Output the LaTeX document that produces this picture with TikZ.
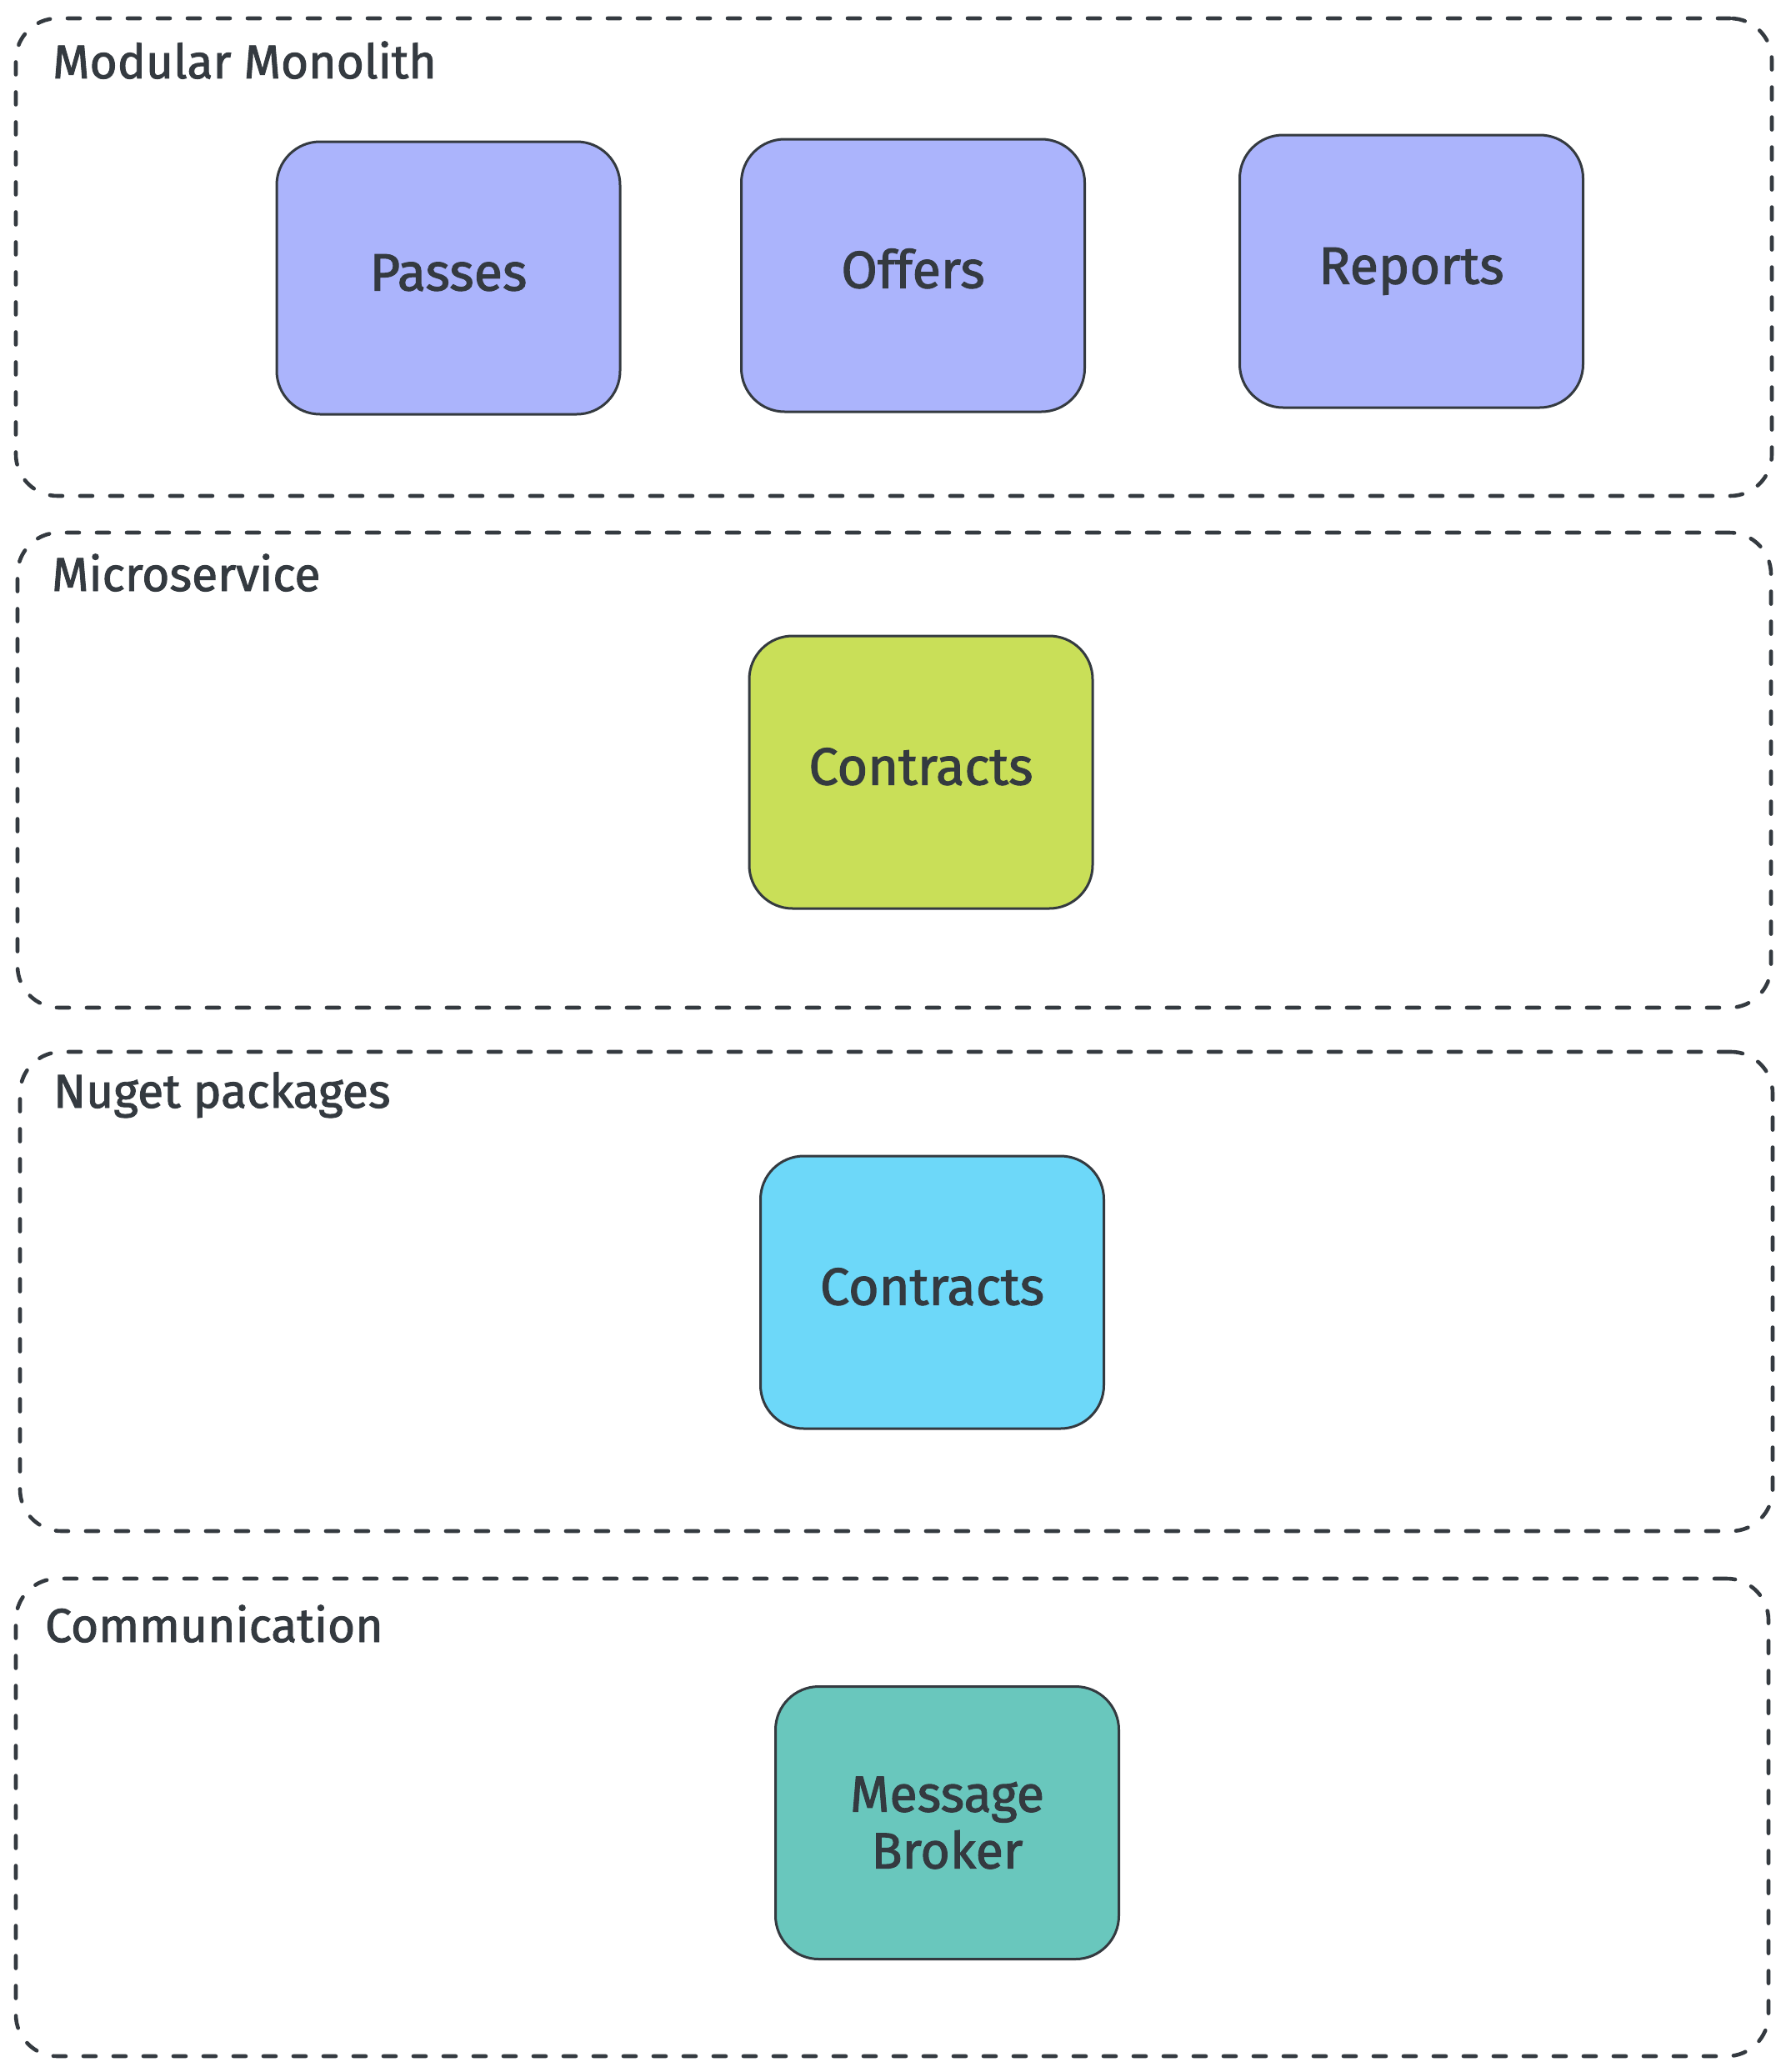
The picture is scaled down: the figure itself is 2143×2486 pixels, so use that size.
\documentclass[tikz,border=0pt]{standalone}
\usepackage{fontspec}
\setmainfont{Fira Sans}
\newfontfamily\handfont{Fira Sans}[FakeBold=1.6]
\definecolor{ink}{HTML}{343A40}
\definecolor{purp}{HTML}{ABB4FC}
\definecolor{lime}{HTML}{C9DF58}
\definecolor{sky}{HTML}{6DD8F9}
\definecolor{tealfill}{HTML}{69C7BD}
\tikzset{
  group/.style={draw=ink, line width=4.6pt, line cap=round, dash pattern=on 15pt off 21pt,
    rounded corners=50pt, inner sep=0pt},
  glabel/.style={text=ink, inner sep=0pt, font=\handfont\fontsize{57}{62}\selectfont},
  modbase/.style={draw=ink, line width=3pt, rounded corners=52pt,
    minimum width=412pt, minimum height=327pt, inner sep=0pt, text=ink,
    font=\handfont\fontsize{63}{68}\selectfont},
  module/.style={modbase, text height=36pt, text depth=6pt}
}
\begin{document}
\begin{tikzpicture}[x=1pt,y=-1pt]
\fill[white] (0,0) rectangle (2143,2486);
\useasboundingbox (0,0) rectangle (2143,2486);

% group frames
\node[group, minimum width=2107pt, minimum height=573pt] (g1) at (1072.5,308.5) {};
\node[group, minimum width=2104pt, minimum height=570pt] (g2) at (1073,924) {};
\node[group, minimum width=2103pt, minimum height=575pt] (g3) at (1075.5,1549.5) {};
\node[group, minimum width=2103pt, minimum height=573pt] (g4) at (1070.5,2180.5) {};

% group labels
\node[glabel, anchor=base west] (l1) at (63,94) {Modular Monolith};
\node[glabel, anchor=base west] (l2) at (62,709) {Microservice};
\node[glabel, anchor=base west] (l3) at (64,1329) {Nuget packages};
\node[glabel, anchor=base west] (l4) at (54,1970) {Communication};

% modules
\node[module, fill=purp] (passes) at (538,333.5) {Passes};
\node[module, fill=purp] (offers) at (1095.5,330.5) {Offers};
\node[module, fill=purp] (reports) at (1693.5,325.5) {Reports};
\node[module, fill=lime] (contractsA) at (1105,926.5) {Contracts};
\node[module, fill=sky] (contractsB) at (1118.5,1550.5) {Contracts};
\node[modbase, fill=tealfill, align=center, font=\handfont\fontsize{61}{68}\selectfont] (broker) at (1136.5,2187) {Message\\Broker};
\end{tikzpicture}
\end{document}
